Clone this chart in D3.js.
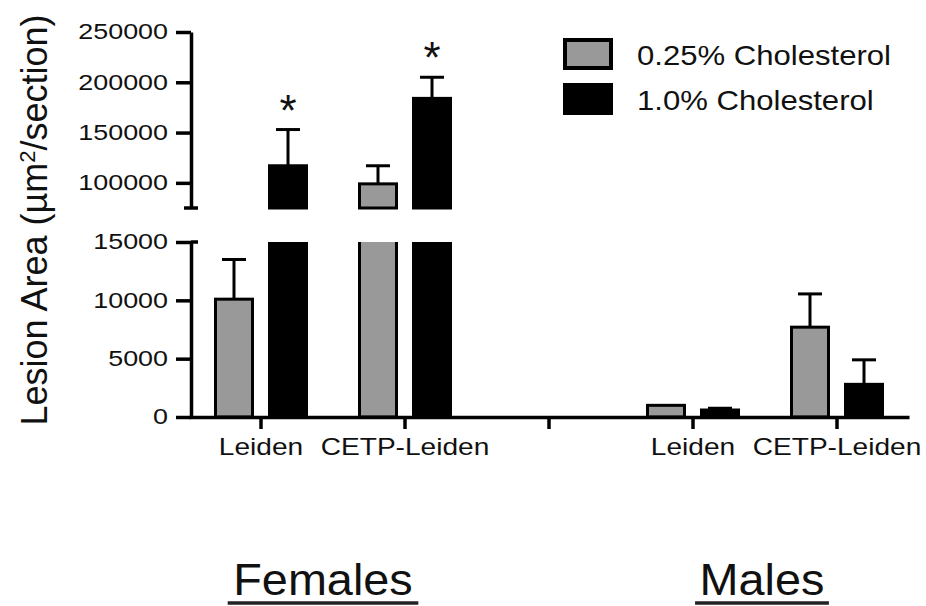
<!DOCTYPE html>
<html>
<head>
<meta charset="utf-8">
<script src="https://cdn.jsdelivr.net/npm/d3@7"></script>
<style>
  body { margin: 0; background: #fff; }
  svg { display: block; }
  text { font-family: "Liberation Sans", Arial, sans-serif; fill: #111; }
</style>
</head>
<body>
<svg id="chart" width="926" height="606"></svg>
<script>
// values
const groups = ["Females", "Females", "Males", "Males"];
const strains = ["Leiden", "CETP-Leiden", "Leiden", "CETP-Leiden"];
const series = ["0.25% Cholesterol", "1.0% Cholesterol"];
const chol025 = [10100, 99000, 1000, 7700];
const chol025Sem = [3400, 18000, 0, 2850];
const chol10 = [117000, 184000, 600, 2800];
const chol10Sem = [36000, 21000, 150, 2100];
const chol10Sig = [true, true, false, false];
const upperTicks = [100000, 150000, 200000, 250000];
const lowerTicks = [0, 5000, 10000, 15000];

const fills = ["#999999", "#000000"];
const svg = d3.select("#chart");

// stretch text horizontally like the original (it was scaled wider)
function stretch(sel, k) {
  sel.each(function () {
    const w = this.getComputedTextLength();
    d3.select(this).attr("textLength", w * k).attr("lengthAdjust", "spacingAndGlyphs");
  });
}

// slots along x: two per sex with an empty slot between
const slotKeys = [];
groups.forEach((g, i) => {
  if (i > 0 && groups[i - 1] !== g) slotKeys.push("gap");
  slotKeys.push(g + "|" + i);
});
const keyOf = (i) => groups[i] + "|" + i;

const x = d3.scaleBand().domain(slotKeys).range([189, 909]);
const xs = d3.scaleBand().domain(series).range([-45.5, 45.5]).paddingInner(0.315);
const yUp = d3.scaleLinear().domain([75000, 250000]).range([208, 32]);
const yLow = d3.scaleLinear().domain([0, 15000]).range([417, 242]);
const axisX = 191;

const bars = [];
strains.forEach((s, i) => {
  bars.push({ i, s: series[0], v: chol025[i], sem: chol025Sem[i], sig: false });
  bars.push({ i, s: series[1], v: chol10[i], sem: chol10Sem[i], sig: chol10Sig[i] });
});
const cx = (d) => x(keyOf(d.i)) + x.bandwidth() / 2 + xs(d.s);

// clip for the lower panel so tall bars are cut at the break
svg.append("clipPath").attr("id", "lowClip")
  .append("rect").attr("x", 0).attr("y", yLow(15000)).attr("width", 926).attr("height", 200);

// lower panel bars
svg.append("g").attr("clip-path", "url(#lowClip)")
  .selectAll("rect").data(bars).enter().append("rect")
  .attr("x", (d) => cx(d))
  .attr("width", xs.bandwidth())
  .attr("y", (d) => yLow(Math.min(d.v, 16000)))
  .attr("height", (d) => yLow(0) - yLow(Math.min(d.v, 16000)))
  .attr("fill", (d) => fills[series.indexOf(d.s)])
  .attr("stroke", "#000").attr("stroke-width", 3);

// upper panel bars
const upBars = bars.filter((d) => d.v > 15000);
svg.append("g").selectAll("rect").data(upBars).enter().append("rect")
  .attr("x", (d) => cx(d))
  .attr("width", xs.bandwidth())
  .attr("y", (d) => yUp(d.v))
  .attr("height", (d) => yUp(75000) - yUp(d.v))
  .attr("fill", (d) => fills[series.indexOf(d.s)])
  .attr("stroke", "#000").attr("stroke-width", 3);

// error bars (upper whisker only)
const yFor = (d) => (d.v > 15000 ? yUp : yLow);
const errG = svg.append("g").attr("stroke", "#000").attr("stroke-width", 3);
bars.filter((d) => d.sem > 0).forEach((d) => {
  const y = yFor(d);
  const mx = cx(d) + xs.bandwidth() / 2;
  errG.append("line").attr("x1", mx).attr("x2", mx).attr("y1", y(d.v)).attr("y2", y(d.v + d.sem));
  errG.append("line").attr("x1", mx - 12).attr("x2", mx + 12)
    .attr("y1", y(d.v + d.sem)).attr("y2", y(d.v + d.sem));
});

// significance stars
svg.append("g").selectAll("text").data(bars.filter((d) => d.sig)).enter().append("text")
  .attr("x", (d) => cx(d) + xs.bandwidth() / 2)
  .attr("y", (d) => yFor(d)(d.v + d.sem) - 4)
  .attr("text-anchor", "middle")
  .style("font-size", "44px")
  .text("*");

// y axes
function styleAxis(g) {
  g.selectAll("path, line").attr("stroke", "#000").attr("stroke-width", 3.5);
  g.selectAll("text").style("font-size", "21.5px").attr("fill", "#111")
    .style("font-family", '"Liberation Sans", Arial, sans-serif');
}
const fmt = d3.format("d");
const gUp = svg.append("g").attr("transform", `translate(${axisX},0)`)
  .call(d3.axisLeft(yUp).tickValues(upperTicks).tickSize(15).tickSizeOuter(0).tickFormat(fmt));
const gLow = svg.append("g").attr("transform", `translate(${axisX},0)`)
  .call(d3.axisLeft(yLow).tickValues(lowerTicks).tickSize(15).tickSizeOuter(0).tickFormat(fmt));
[gUp, gLow].forEach((g) => {
  styleAxis(g);
  g.selectAll("text").attr("x", -23);
  stretch(g.selectAll("text"), 1.25);
});
// break caps
svg.append("line").attr("x1", axisX - 7).attr("x2", axisX + 7)
  .attr("y1", yUp(75000)).attr("y2", yUp(75000)).attr("stroke", "#000").attr("stroke-width", 3.5);
svg.append("line").attr("x1", axisX).attr("x2", axisX + 7)
  .attr("y1", yLow(15000)).attr("y2", yLow(15000)).attr("stroke", "#000").attr("stroke-width", 3.5);

// x axis
const labelOf = (k) => (k === "gap" ? "" : strains[+k.split("|")[1]]);
const gX = svg.append("g").attr("transform", `translate(0,${yLow(0)})`)
  .call(d3.axisBottom(x).tickSize(12).tickSizeOuter(0).tickFormat(labelOf));
styleAxis(gX);
gX.selectAll("text").style("font-size", "24px").attr("y", 38).attr("dy", null);
stretch(gX.selectAll("text"), 1.17);

// y axis title
const yt = svg.append("text")
  .attr("transform", "translate(47,220) rotate(-90)")
  .attr("text-anchor", "middle")
  .style("font-size", "36px");
yt.append("tspan").text("Lesion Area (\u00b5m");
yt.append("tspan").attr("baseline-shift", "super").style("font-size", "22px").text("2");
yt.append("tspan").text("/section)");

// legend
const leg = svg.append("g");
series.forEach((s, i) => {
  leg.append("rect").attr("x", 565).attr("y", 40 + i * 45).attr("width", 46).attr("height", 28)
    .attr("fill", fills[i]).attr("stroke", "#000").attr("stroke-width", 4);
  const t = leg.append("text").attr("x", 637).attr("y", 65 + i * 45)
    .style("font-size", "28px").text(s);
  stretch(t, 1.11);
});

// sex labels, underlined
const sexNames = Array.from(new Set(groups));
const sexX = [323, 762];
sexNames.forEach((g, i) => {
  const t = svg.append("text").attr("x", sexX[i]).attr("y", 595)
    .attr("text-anchor", "middle").style("font-size", "45px").text(g);
  stretch(t, 1.04);
  const w = t.node().getComputedTextLength() * 1.04;
  svg.append("line").attr("x1", sexX[i] - w / 2 - 2).attr("x2", sexX[i] + w / 2 + 2)
    .attr("y1", 603).attr("y2", 603).attr("stroke", "#222").attr("stroke-width", 3.5);
});
</script>
</body>
</html>
